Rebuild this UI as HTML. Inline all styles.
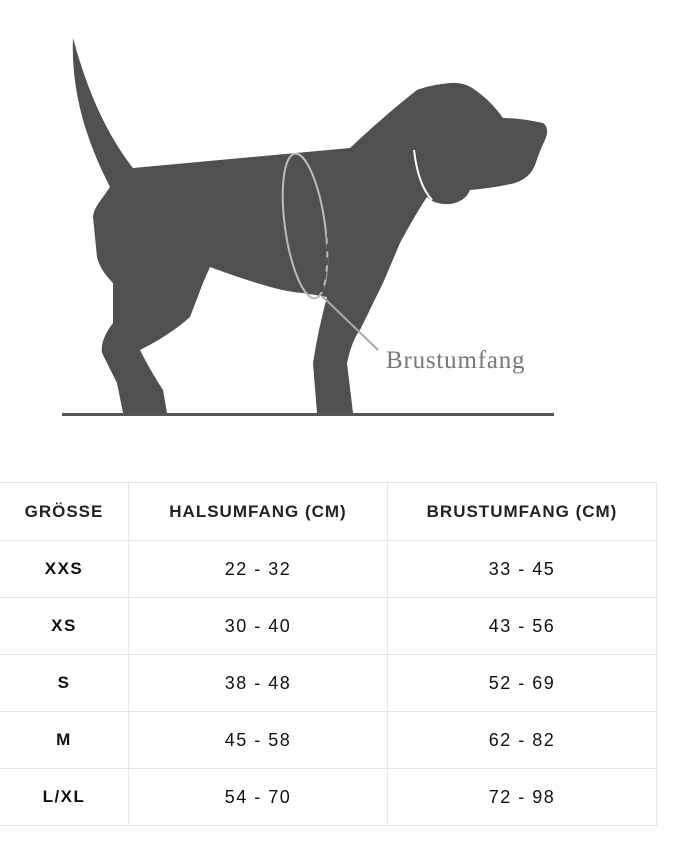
<!DOCTYPE html><html><head><style>
body{margin:0;background:#fff;width:674px;height:852px;overflow:hidden;position:relative;font-family:"Liberation Sans",sans-serif}
svg{position:absolute;left:0;top:0}
table{position:absolute;left:-1px;top:482px;border-collapse:collapse;color:#111}
td{border:1px solid #e6e6e6;text-align:center;height:56px;padding:0;font-size:18px;letter-spacing:1.5px}
tr.h td{height:57px;letter-spacing:1px}
td.a{width:128px;font-weight:bold;font-size:17px}
td.b{width:258px}td.c{width:268px}
tr.h td{font-weight:bold;font-size:17px;color:#222}
</style></head><body>
<svg width="674" height="480">
<path fill="#505050" d="M73,38 Q70,110 110,187 L103,197 Q93,210 93,217 L97,257 Q100,270 113,283 L113,323 Q100,340 102,353 L117,383 L123,413 L167,413 L163,390 Q150,370 140,350 Q170,335 190,317 L203,283 L210,267 Q240,278 257,283 Q285,292 303,293 L327,297 Q318,330 313,363 L317,413 L353,413 L347,363 Q352,340 360,330 L383,283 L400,243 Q415,215 427,197 Q435,205 450,204 Q465,202 470,190 Q495,188 515,183 Q530,178 535,165 Q540,150 545,140 Q550,128 543,123 Q520,118 503,118 Q490,100 475,90 Q465,82 450,83 Q430,85 417,90 Q385,115 350,148 L133,168 Q95,120 73,38Z"/>
<path d="M414,150 Q418,185 432,200" stroke="#fff" stroke-width="2" fill="none"/>
<ellipse cx="305" cy="226" rx="20" ry="73" transform="rotate(-8 305 226)" fill="none" stroke="#bbb" stroke-width="2"/>
<path d="M322,160 Q335,225 322,292" stroke="#505050" stroke-width="3" stroke-dasharray="8 6" fill="none"/>
<line x1="322" y1="296" x2="378" y2="350" stroke="#aaa" stroke-width="2"/>
<text x="386" y="368" font-family="Liberation Serif,serif" font-size="25" letter-spacing="0.8" fill="#777">Brustumfang</text>
<rect x="62" y="413" width="492" height="3" fill="#555"/>
</svg>
<table>
<tr class="h"><td class="a">GRÖSSE</td><td class="b">HALSUMFANG (CM)</td><td class="c">BRUSTUMFANG (CM)</td></tr>
<tr><td class="a">XXS</td><td class="b">22 - 32</td><td class="c">33 - 45</td></tr>
<tr><td class="a">XS</td><td class="b">30 - 40</td><td class="c">43 - 56</td></tr>
<tr><td class="a">S</td><td class="b">38 - 48</td><td class="c">52 - 69</td></tr>
<tr><td class="a">M</td><td class="b">45 - 58</td><td class="c">62 - 82</td></tr>
<tr><td class="a">L/XL</td><td class="b">54 - 70</td><td class="c">72 - 98</td></tr>
</table>
</body></html>
